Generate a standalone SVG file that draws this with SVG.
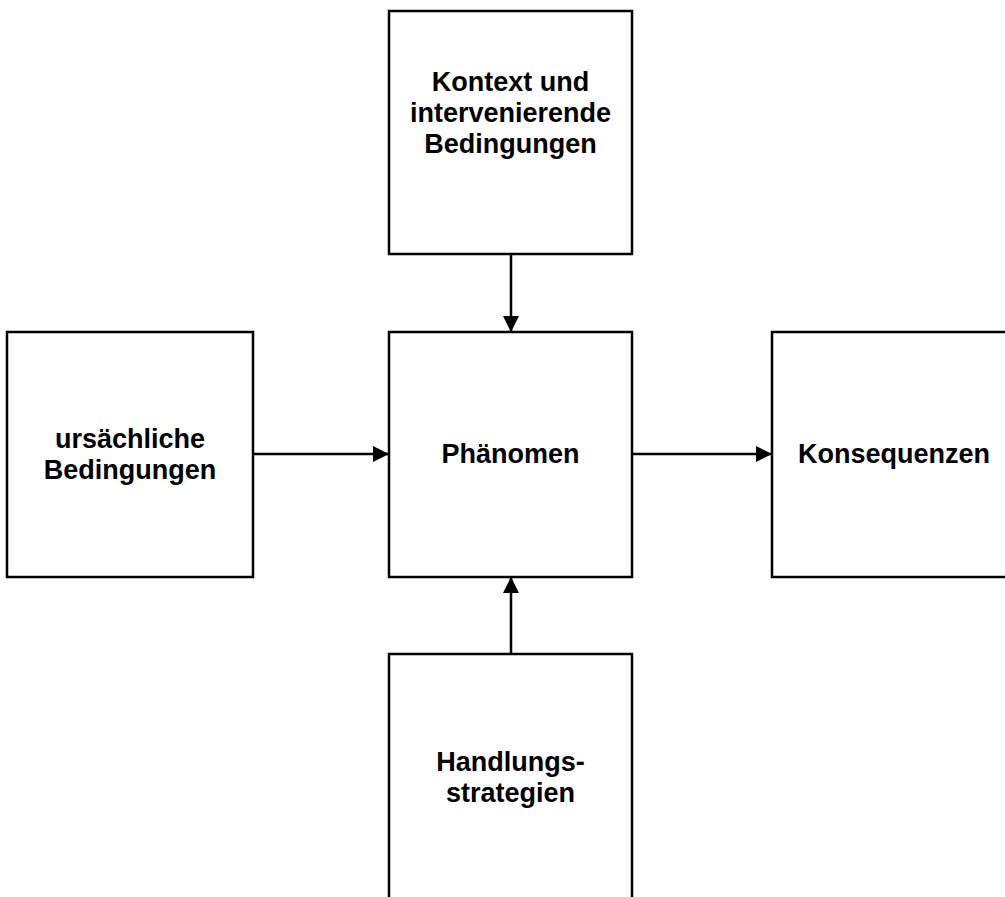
<svg xmlns="http://www.w3.org/2000/svg" width="1005" height="897" viewBox="0 0 1005 897">
  <style>
    .box { fill: #ffffff; stroke: #000000; stroke-width: 2.5; }
    .label { font-family: "Liberation Sans", Arial, sans-serif; font-size: 27px; font-weight: bold; fill: #000000; text-anchor: middle; }
    .edge { stroke: #000000; stroke-width: 2.5; fill: none; marker-end: url(#arrow); }
  </style>
  <defs>
    <marker id="arrow" viewBox="0 0 16 16" refX="16" refY="8" markerWidth="16" markerHeight="16" markerUnits="userSpaceOnUse" orient="auto">
      <path d="M0,0 L16,8 L0,16 Z" fill="#000000"/>
    </marker>
  </defs>
  <rect width="1005" height="897" fill="#ffffff"/>

  <g id="kontext">
    <rect class="box" x="389" y="11" width="243" height="243"/>
    <text class="label" x="510.5" y="91">Kontext und</text>
    <text class="label" x="510.5" y="122">intervenierende</text>
    <text class="label" x="510.5" y="153">Bedingungen</text>
  </g>

  <g id="ursachen">
    <rect class="box" x="7" y="332" width="246" height="245"/>
    <text class="label" x="130" y="448">ursächliche</text>
    <text class="label" x="130" y="479">Bedingungen</text>
  </g>

  <g id="phaenomen">
    <rect class="box" x="389" y="332" width="243" height="245"/>
    <text class="label" x="510.5" y="463">Phänomen</text>
  </g>

  <g id="konsequenzen">
    <rect class="box" x="772" y="332" width="243" height="245"/>
    <text class="label" x="894" y="463">Konsequenzen</text>
  </g>

  <g id="strategien">
    <rect class="box" x="389" y="654" width="243" height="260"/>
    <text class="label" x="510.5" y="771">Handlungs-</text>
    <text class="label" x="510.5" y="802">strategien</text>
  </g>

  <g id="connectors">
    <line class="edge" x1="511" y1="254" x2="511" y2="332"/>
    <line class="edge" x1="253" y1="454" x2="389" y2="454"/>
    <line class="edge" x1="632" y1="454" x2="772" y2="454"/>
    <line class="edge" x1="511" y1="654" x2="511" y2="577"/>
  </g>
</svg>
